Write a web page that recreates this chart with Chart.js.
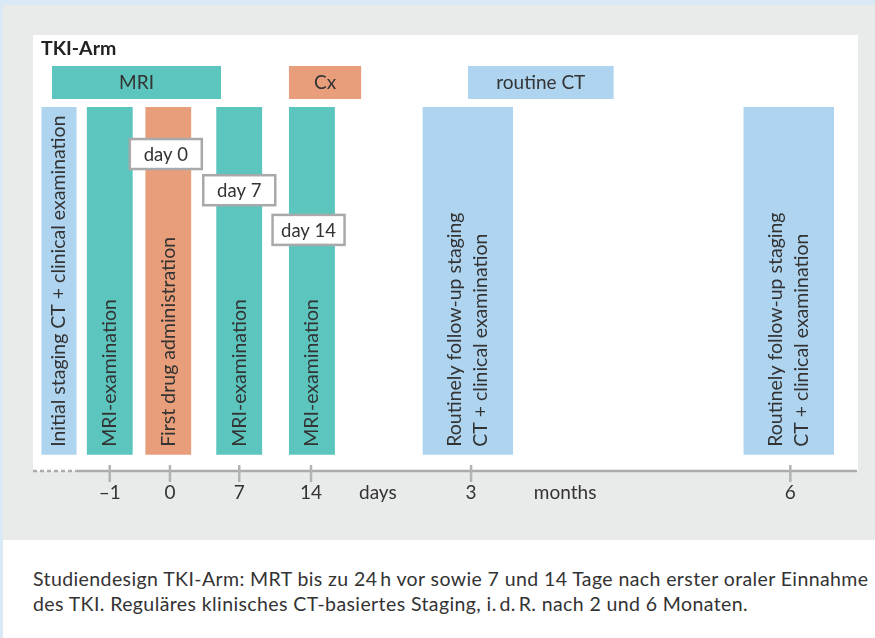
<!DOCTYPE html>
<html>
<head>
<meta charset="utf-8">
<script src="https://cdn.jsdelivr.net/npm/chart.js@4.4.1/dist/chart.umd.min.js"></script>
<style>
  body { margin: 0; background: #fff; }
  #page { position: relative; width: 875px; height: 638px; overflow: hidden; }
  .stripeTop { position: absolute; left: 0; top: 0; width: 875px; height: 5px; background: #d9eaf6; }
  .stripeLeft { position: absolute; left: 0; top: 0; width: 3px; height: 638px; background: #d9eaf6; }
  #wrap { position: absolute; left: 3px; top: 5px; width: 872px; height: 535px; }
  #caption { position: absolute; left: 33px; top: 566px; font-family: Lato, sans-serif; font-size: 19.5px; letter-spacing: 0.4px; line-height: 25px; color: #333; white-space: nowrap; }
</style>
</head>
<body>
<div id="page">
  <div class="stripeTop"></div>
  <div class="stripeLeft"></div>
  <div id="wrap"><canvas id="timelineChart" width="872" height="535"></canvas></div>
  <div id="caption">Studiendesign TKI-Arm: MRT bis zu 24&#8201;h vor sowie 7 und 14 Tage nach erster oraler Einnahme<br>des TKI. Reguläres klinisches CT-basiertes Staging, i.&#8201;d.&#8201;R. nach 2 und 6 Monaten.</div>
</div>
<script>
// TKI-Arm study timeline (schematic x axis, units 0..100)

// events drawn as vertical bars
const eventLabels = [
  ['Initial staging CT + clinical examination'],
  ['MRI-examination'],
  ['First drug administration'],
  ['MRI-examination'],
  ['MRI-examination'],
  ['Routinely follow-up staging', 'CT + clinical examination'],
  ['Routinely follow-up staging', 'CT + clinical examination']
];
const eventType = ['ct', 'mri', 'drug', 'mri', 'mri', 'ct', 'ct'];
const eventStart = [1.0, 6.5, 13.6, 22.2, 31.0, 47.2, 86.1];
const eventEnd = [5.3, 12.1, 19.2, 27.8, 36.6, 58.2, 97.1];
const eventLow = 3.7;
const eventHigh = 83.5;

// phase bars along the top
const phaseLabels = ['MRI', 'Cx', 'routine CT'];
const phaseType = ['mri', 'drug', 'ct'];
const phaseStart = [2.3, 31.0, 52.7];
const phaseEnd = [22.8, 39.8, 70.4];
const phaseLow = 85.3;
const phaseHigh = 92.9;

// day markers
const dayLabels = ['day 0', 'day 7', 'day 14'];
const dayX = [16.1, 25.0, 33.4];
const dayY = [72.7, 64.4, 55.3];

// x axis ticks
const tickValues = [9.3, 16.6, 25.0, 33.7, 53.1, 91.8];
const tickLabels = ['–1', '0', '7', '14', '3', '6'];
const unitValues = [41.8, 64.5];
const unitLabels = ['days', 'months'];
const axisSolidFrom = 5.3;

const FONT = 'Lato, sans-serif';
const TEXT = '#333';
const typeColors = { ct: '#aed4ef', mri: '#5bc5be', drug: '#e99e7b' };

// combined axis labels, sorted by position
const axisItems = tickValues.map((v, i) => ({ value: v, label: tickLabels[i], mark: true }))
  .concat(unitValues.map((v, i) => ({ value: v, label: unitLabels[i], mark: false })))
  .sort((a, b) => a.value - b.value);

// build datasets
const datasets = [];
eventStart.forEach((s, i) => {
  datasets.push({
    label: eventLabels[i].join(' '),
    data: [{ x: s, y: eventHigh }, { x: eventEnd[i], y: eventHigh }],
    fill: { value: eventLow },
    backgroundColor: typeColors[eventType[i]],
    borderWidth: 0,
    pointRadius: 0
  });
});
phaseStart.forEach((s, i) => {
  datasets.push({
    label: phaseLabels[i],
    data: [{ x: s, y: phaseHigh }, { x: phaseEnd[i], y: phaseHigh }],
    fill: { value: phaseLow },
    backgroundColor: typeColors[phaseType[i]],
    borderWidth: 0,
    pointRadius: 0
  });
});
datasets.push({
  label: 'days',
  type: 'scatter',
  data: dayX.map((x, i) => ({ x: x, y: dayY[i] })),
  pointRadius: 0
});
const dayIndex = datasets.length - 1;

// background, labels, axis line, tick marks, day boxes
const timelinePlugin = {
  id: 'timeline',
  beforeDraw(chart) {
    const { ctx, chartArea: a } = chart;
    ctx.save();
    ctx.fillStyle = '#e9ebea';
    ctx.fillRect(0, 0, chart.width, chart.height);
    ctx.fillStyle = '#fff';
    ctx.fillRect(a.left, a.top, a.right - a.left, a.bottom - a.top);
    ctx.restore();
  },
  afterDraw(chart) {
    const { ctx, chartArea: a } = chart;
    const xs = chart.scales.x, ys = chart.scales.y;
    ctx.save();

    // title
    ctx.fillStyle = '#222';
    ctx.font = 'bold 19.5px ' + FONT;
    ctx.textAlign = 'left';
    ctx.textBaseline = 'middle';
    ctx.fillText('TKI-Arm', a.left + 8, a.top + 14);

    // phase labels
    ctx.font = '19px ' + FONT;
    ctx.fillStyle = TEXT;
    ctx.textAlign = 'center';
    phaseLabels.forEach((t, i) => {
      const cx = xs.getPixelForValue((phaseStart[i] + phaseEnd[i]) / 2);
      const cy = ys.getPixelForValue((phaseLow + phaseHigh) / 2);
      ctx.fillText(t, cx, cy);
    });

    // rotated event labels
    ctx.font = '19.5px ' + FONT;
    eventLabels.forEach((lines, i) => {
      const cx = xs.getPixelForValue((eventStart[i] + eventEnd[i]) / 2);
      const by = ys.getPixelForValue(eventLow) - 8;
      ctx.save();
      ctx.translate(cx, by);
      ctx.rotate(-Math.PI / 2);
      ctx.textAlign = 'left';
      ctx.textBaseline = 'middle';
      lines.forEach((l, j) => {
        ctx.fillText(l, 0, (j - (lines.length - 1) / 2) * 26);
      });
      ctx.restore();
    });

    // day boxes
    const pts = chart.getDatasetMeta(dayIndex).data;
    ctx.font = '18.5px ' + FONT;
    ctx.textAlign = 'center';
    ctx.textBaseline = 'middle';
    pts.forEach((p, i) => {
      const w = 72, h = 30;
      ctx.fillStyle = '#fff';
      ctx.fillRect(p.x - w / 2, p.y - h / 2, w, h);
      ctx.strokeStyle = '#a8a9ab';
      ctx.lineWidth = 2.5;
      ctx.strokeRect(p.x - w / 2, p.y - h / 2, w, h);
      ctx.fillStyle = TEXT;
      ctx.fillText(dayLabels[i], p.x, p.y + 1);
    });

    // axis line: dotted before first event, solid after
    const ay = a.bottom;
    const split = xs.getPixelForValue(axisSolidFrom);
    ctx.strokeStyle = '#a9abad';
    ctx.lineWidth = 2.5;
    ctx.setLineDash([4, 3]);
    ctx.beginPath();
    ctx.moveTo(a.left, ay);
    ctx.lineTo(split, ay);
    ctx.stroke();
    ctx.setLineDash([]);
    ctx.beginPath();
    ctx.moveTo(split, ay);
    ctx.lineTo(a.right - 1, ay);
    ctx.stroke();

    // tick marks crossing the axis
    ctx.strokeStyle = '#b2b3b5';
    axisItems.forEach(t => {
      if (!t.mark) return;
      const px = xs.getPixelForValue(t.value);
      ctx.beginPath();
      ctx.moveTo(px, ay - 6);
      ctx.lineTo(px, ay + 11);
      ctx.stroke();
    });
    ctx.restore();
  }
};

const ctx = document.getElementById('timelineChart').getContext('2d');
const myChart = new Chart(ctx, {
  type: 'line',
  data: { datasets: datasets },
  options: {
    responsive: false,
    animation: false,
    layout: { padding: { left: 30, right: 17, top: 30, bottom: 0 } },
    plugins: { legend: { display: false }, tooltip: { enabled: false } },
    scales: {
      x: {
        type: 'linear',
        min: 0,
        max: 100,
        afterBuildTicks: s => { s.ticks = axisItems.map(t => ({ value: t.value })); },
        afterFit: s => { s.height = 69; },
        grid: { display: false, drawTicks: false },
        border: { display: false },
        ticks: {
          autoSkip: false,
          maxRotation: 0,
          padding: 10,
          color: TEXT,
          font: { family: FONT, size: 19 },
          callback: (v, i) => axisItems[i].label
        }
      },
      y: { type: 'linear', min: 0, max: 100, display: false }
    }
  },
  plugins: [timelinePlugin]
});
</script>
</body>
</html>
